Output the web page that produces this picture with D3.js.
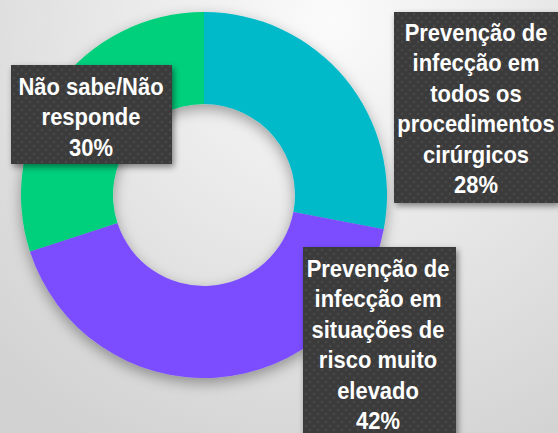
<!DOCTYPE html>
<html>
<head>
<meta charset="utf-8">
<script src="https://cdn.jsdelivr.net/npm/d3@7/dist/d3.min.js"></script>
<style>
  html, body { margin: 0; padding: 0; }
  body { width: 558px; height: 433px; overflow: hidden; }
</style>
</head>
<body>
<div id="chart"></div>
<script>
    var categories = ["Prevenção de infecção em todos os procedimentos cirúrgicos",
                      "Prevenção de infecção em situações de risco muito elevado",
                      "Não sabe/Não responde"]
    var values = [28, 42, 30]
    var colors = ["#00b9c9", "#7b4dff", "#00cf7b"]
    // label text split into lines, as in the picture
    var labelLines = [
        ["Prevenção de", "infecção em", "todos os", "procedimentos", "cirúrgicos", "28%"],
        ["Prevenção de", "infecção em", "situações de", "risco muito", "elevado", "42%"],
        ["Não sabe/Não", "responde", "30%"]
    ]
    var labelBoxes = [
        {x: 394, y: 12, w: 164, h: 191, cx: 476, top: 29},
        {x: 303, y: 247, w: 153, h: 200, cx: 378, top: 30},
        {x: 11, y: 65, w: 161, h: 99, cx: 91, top: 30}
    ]

    var width = 558,
        height = 433

    var svg = d3.select("#chart")
        .append("svg")
        .attr("width", width)
        .attr("height", height)

    var defs = svg.append("defs")

    var bg = defs.append("radialGradient")
        .attr("id", "bg")
        .attr("gradientUnits", "userSpaceOnUse")
        .attr("cx", 330).attr("cy", 20).attr("r", 480)
    bg.append("stop").attr("offset", "0%").attr("stop-color", "#fbfbfb")
    bg.append("stop").attr("offset", "100%").attr("stop-color", "#d2d2d2")

    var shadow = defs.append("filter")
        .attr("id", "shadow")
        .attr("x", "-20%").attr("y", "-20%")
        .attr("width", "140%").attr("height", "140%")
    shadow.append("feDropShadow")
        .attr("dx", 0).attr("dy", 5)
        .attr("stdDeviation", 7)
        .attr("flood-color", "#000")
        .attr("flood-opacity", 0.35)

    var boxShadow = defs.append("filter")
        .attr("id", "boxShadow")
        .attr("x", "-20%").attr("y", "-20%")
        .attr("width", "140%").attr("height", "140%")
    boxShadow.append("feDropShadow")
        .attr("dx", 2).attr("dy", 3)
        .attr("stdDeviation", 3)
        .attr("flood-color", "#000")
        .attr("flood-opacity", 0.45)

    var dots = defs.append("pattern")
        .attr("id", "dots")
        .attr("patternUnits", "userSpaceOnUse")
        .attr("width", 8).attr("height", 8)
    dots.append("rect").attr("width", 8).attr("height", 8).attr("fill", "#3b3b3b")
    dots.append("circle").attr("cx", 2).attr("cy", 2).attr("r", 1.3).attr("fill", "#4a4a4a")
    dots.append("circle").attr("cx", 6).attr("cy", 6).attr("r", 1.3).attr("fill", "#474747")

    svg.append("rect")
        .attr("width", width)
        .attr("height", height)
        .attr("fill", "url(#bg)")

    var pie = d3.pie().sort(null)
    var arc = d3.arc().innerRadius(91).outerRadius(183)

    var g = svg.append("g")
        .attr("transform", "translate(204,195)")
        .attr("filter", "url(#shadow)")

    g.selectAll(".slice")
        .data(pie(values))
        .enter().append("path")
        .attr("class", "slice")
        .attr("d", arc)
        .attr("fill", function(d, i) { return colors[i] })

    var labels = svg.selectAll(".label")
        .data(labelBoxes)
        .enter().append("g")
        .attr("class", "label")

    labels.append("rect")
        .attr("x", function(d) { return d.x })
        .attr("y", function(d) { return d.y })
        .attr("width", function(d) { return d.w })
        .attr("height", function(d) { return d.h })
        .attr("fill", "url(#dots)")
        .attr("filter", "url(#boxShadow)")

    // the label font is a little narrower than Arial bold, so squeeze it a bit
    labels.each(function(d, i) {
        var t = d3.select(this).append("text")
            .attr("transform", "translate(" + d.cx + "," + d.y + ") scale(0.955,1)")
            .attr("text-anchor", "middle")
            .attr("font-family", "Liberation Sans, Arial, sans-serif")
            .attr("font-weight", "bold")
            .attr("font-size", 23)
            .attr("fill", "#fff")
        labelLines[i].forEach(function(line, j) {
            t.append("tspan")
                .attr("x", 0)
                .attr("y", d.top + j * 30.4)
                .text(line)
        })
    })
</script>
</body>
</html>
